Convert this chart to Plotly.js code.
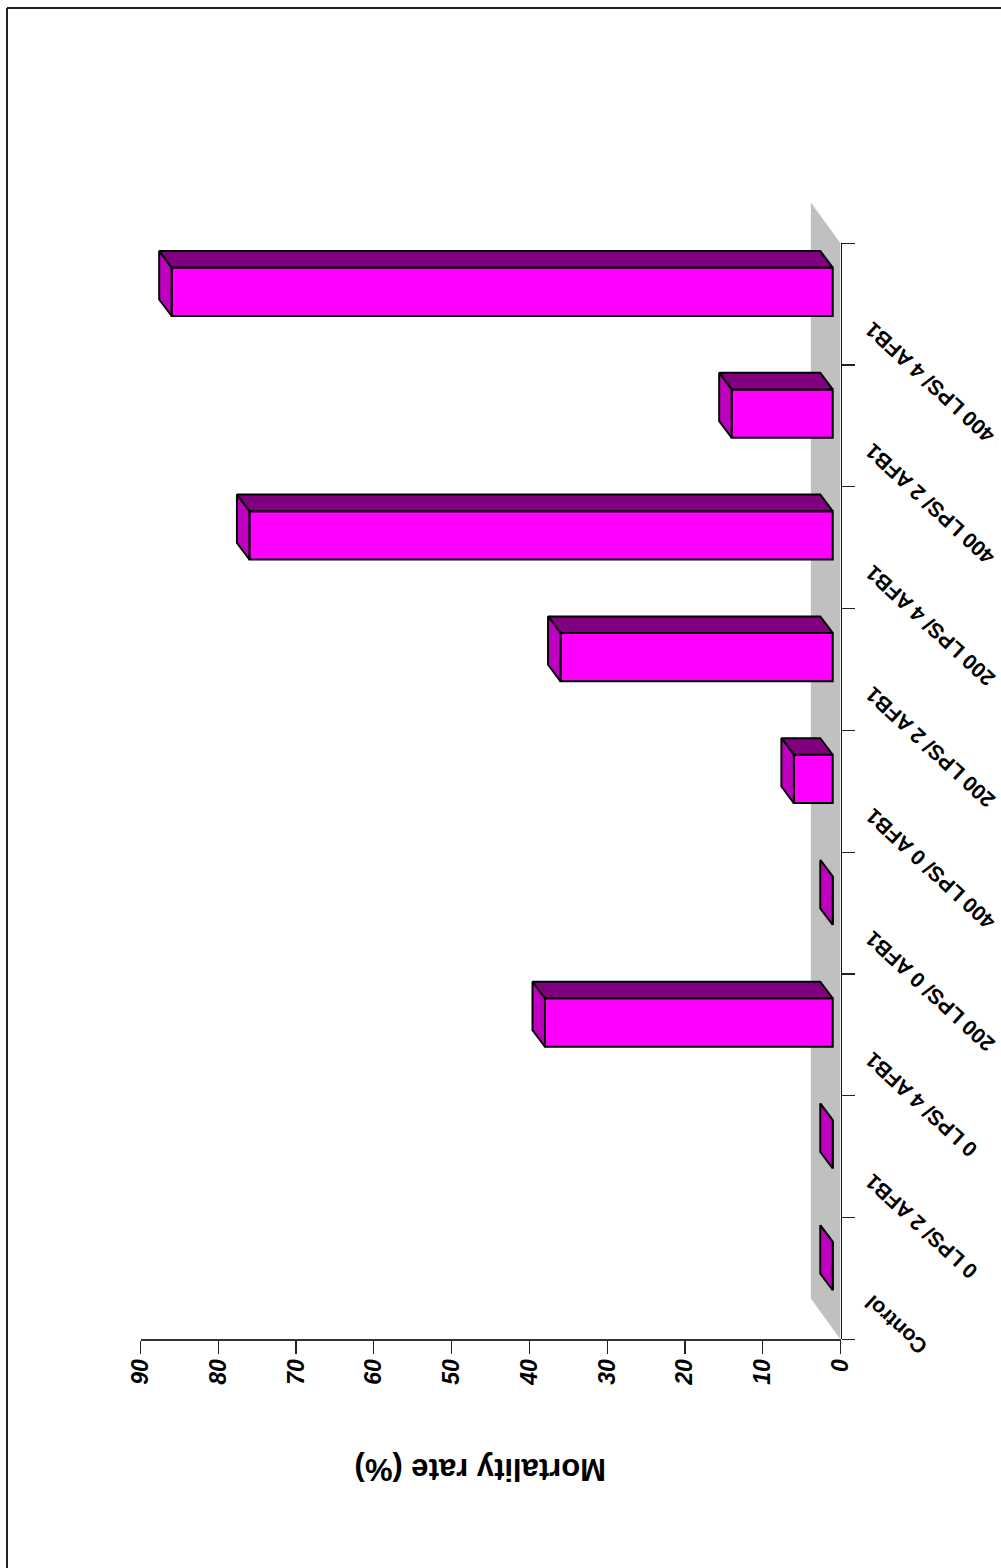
<!DOCTYPE html>
<html>
<head>
<meta charset="utf-8">
<script src="https://cdn.plot.ly/plotly-3.0.1.min.js"></script>
<style>html,body{margin:0;padding:0;background:#fff}</style>
</head>
<body>
<div id="chart" style="width:1001px;height:1568px"></div>
<script>
// Treatment groups, listed from the axis origin outwards
const categories = ["Control", "0 LPS/ 2 AFB1", "0 LPS/ 4 AFB1", "200 LPS/ 0 AFB1", "400 LPS/ 0 AFB1",
                    "200 LPS/ 2 AFB1", "200 LPS/ 4 AFB1", "400 LPS/ 2 AFB1", "400 LPS/ 4 AFB1"];
const mortality = [0, 0, 37, 0, 5, 35, 75, 13, 85];
const valueTicks = [0, 10, 20, 30, 40, 50, 60, 70, 80, 90];
const axisTitle = "Mortality rate (%)";

const W = 1001, H = 1568;
const FONT = "Liberation Sans, Arial, sans-serif";

// Pseudo-3D geometry, in axis units (value units along x, category slots along y)
const FLOOR_DX = 3.81, FLOOR_DY = 0.335;
const FRONT_DX = 1.0, FRONT_DY = 0.102;
const DEPTH_DX = 1.6, DEPTH_DY = 0.136;
const BAR_H = 0.397;

const LEFT = 140.5, RIGHT = 840.5, BOTTOM = 1339.4, AXIS_TOP = 243.3, FLOOR_TOP = 203;
const slotPx = (BOTTOM - AXIS_TOP) / categories.length;
const extendedTop = categories.length - 0.5 + (AXIS_TOP - FLOOR_TOP) / slotPx;

const slots = categories.map((_, i) => i);
const boundaries = [...slots.map(i => i - 0.5), categories.length - 0.5];

// Top and end faces of each box, built from its value
const topX = [], topY = [], sideX = [], sideY = [];
mortality.forEach((v, i) => {
  const yLow = i + FRONT_DY - BAR_H / 2, yHigh = i + FRONT_DY + BAR_H / 2;
  const xEnd = FRONT_DX + v;
  topX.push(FRONT_DX, xEnd, xEnd + DEPTH_DX, FRONT_DX + DEPTH_DX, FRONT_DX, null);
  topY.push(yHigh, yHigh, yHigh + DEPTH_DY, yHigh + DEPTH_DY, yHigh, null);
  sideX.push(xEnd, xEnd, xEnd + DEPTH_DX, xEnd + DEPTH_DX, xEnd, null);
  sideY.push(yLow, yHigh, yHigh + DEPTH_DY, yLow + DEPTH_DY, yLow, null);
});

const edge = {color: "#000", width: 2};
const traces = [
  {type: "bar", orientation: "h", x: mortality, y: slots.map(i => i + FRONT_DY), base: FRONT_DX,
   width: BAR_H, marker: {color: "#FF00FF", line: edge}, hoverinfo: "skip"},
  {type: "scatter", mode: "lines", x: topX, y: topY, fill: "toself", fillcolor: "#800080",
   line: edge, hoverinfo: "skip"},
  {type: "scatter", mode: "lines", x: sideX, y: sideY, fill: "toself", fillcolor: "#C000C0",
   line: edge, hoverinfo: "skip"}
];

// Category names sit at a slant beyond the axis, their ends lined up near it
const annotations = categories.map((c, i) => ({
  text: "<b>" + c + "</b>", xref: "x", yref: "y2", x: 0, y: i,
  xanchor: "left", yanchor: "top", xshift: 17, yshift: -10,
  textangle: -137.5, showarrow: false, font: {family: FONT, size: 21.2, color: "#000"}
}));
annotations.push({
  text: "<b>" + axisTitle + "</b>", xref: "paper", yref: "paper", x: 481 / W, y: 1 - 1470 / H,
  xanchor: "center", yanchor: "middle", textangle: 180, showarrow: false,
  font: {family: FONT, size: 31, color: "#000"}
});

const layout = {
  width: W, height: H, margin: {l: 0, r: 0, t: 0, b: 0},
  paper_bgcolor: "#fff", plot_bgcolor: "rgba(0,0,0,0)", showlegend: false, barmode: "overlay",
  xaxis: {
    domain: [LEFT / W, RIGHT / W], range: [90, 0], tickvals: valueTicks, ticks: "outside",
    ticklen: 13, tickwidth: 1.2, tickcolor: "#222", showline: true, linecolor: "#333", linewidth: 1.5,
    showgrid: false, zeroline: false, tickangle: -90, anchor: "y", ticklabelstandoff: -4,
    tickfont: {family: FONT, size: 23, weight: "bold", style: "italic", color: "#000"}
  },
  // Box geometry axis, stretched upwards so the floor can run past the last tick
  yaxis: {
    domain: [1 - BOTTOM / H, 1 - FLOOR_TOP / H], range: [-0.5, extendedTop], visible: false, anchor: "x"
  },
  // Visible category axis with ticks on the slot boundaries
  yaxis2: {
    domain: [1 - BOTTOM / H, 1 - AXIS_TOP / H], range: [-0.5, categories.length - 0.5], anchor: "x",
    side: "right", tickvals: boundaries, ticks: "outside", ticklen: 13, tickwidth: 1.2, tickcolor: "#222",
    showticklabels: false, showline: true, linecolor: "#111", linewidth: 1.5, showgrid: false, zeroline: false
  },
  shapes: [
    {type: "path", layer: "below", xref: "x", yref: "y", line: {width: 0}, fillcolor: "#C0C0C0",
     path: `M0,-0.5 L${FLOOR_DX},${-0.5 + FLOOR_DY} L${FLOOR_DX},${categories.length - 0.5 + FLOOR_DY} L0,${categories.length - 0.5} Z`},
    {type: "line", xref: "paper", yref: "paper", x0: 7 / W, x1: 7 / W, y0: 0, y1: 1 - 8 / H,
     line: {color: "#222", width: 2}},
    {type: "line", xref: "paper", yref: "paper", x0: 7 / W, x1: 1, y0: 1 - 8 / H, y1: 1 - 8 / H,
     line: {color: "#222", width: 2}}
  ],
  annotations: annotations
};

Plotly.newPlot("chart", traces, layout, {staticPlot: true, displayModeBar: false});
</script>
</body>
</html>
